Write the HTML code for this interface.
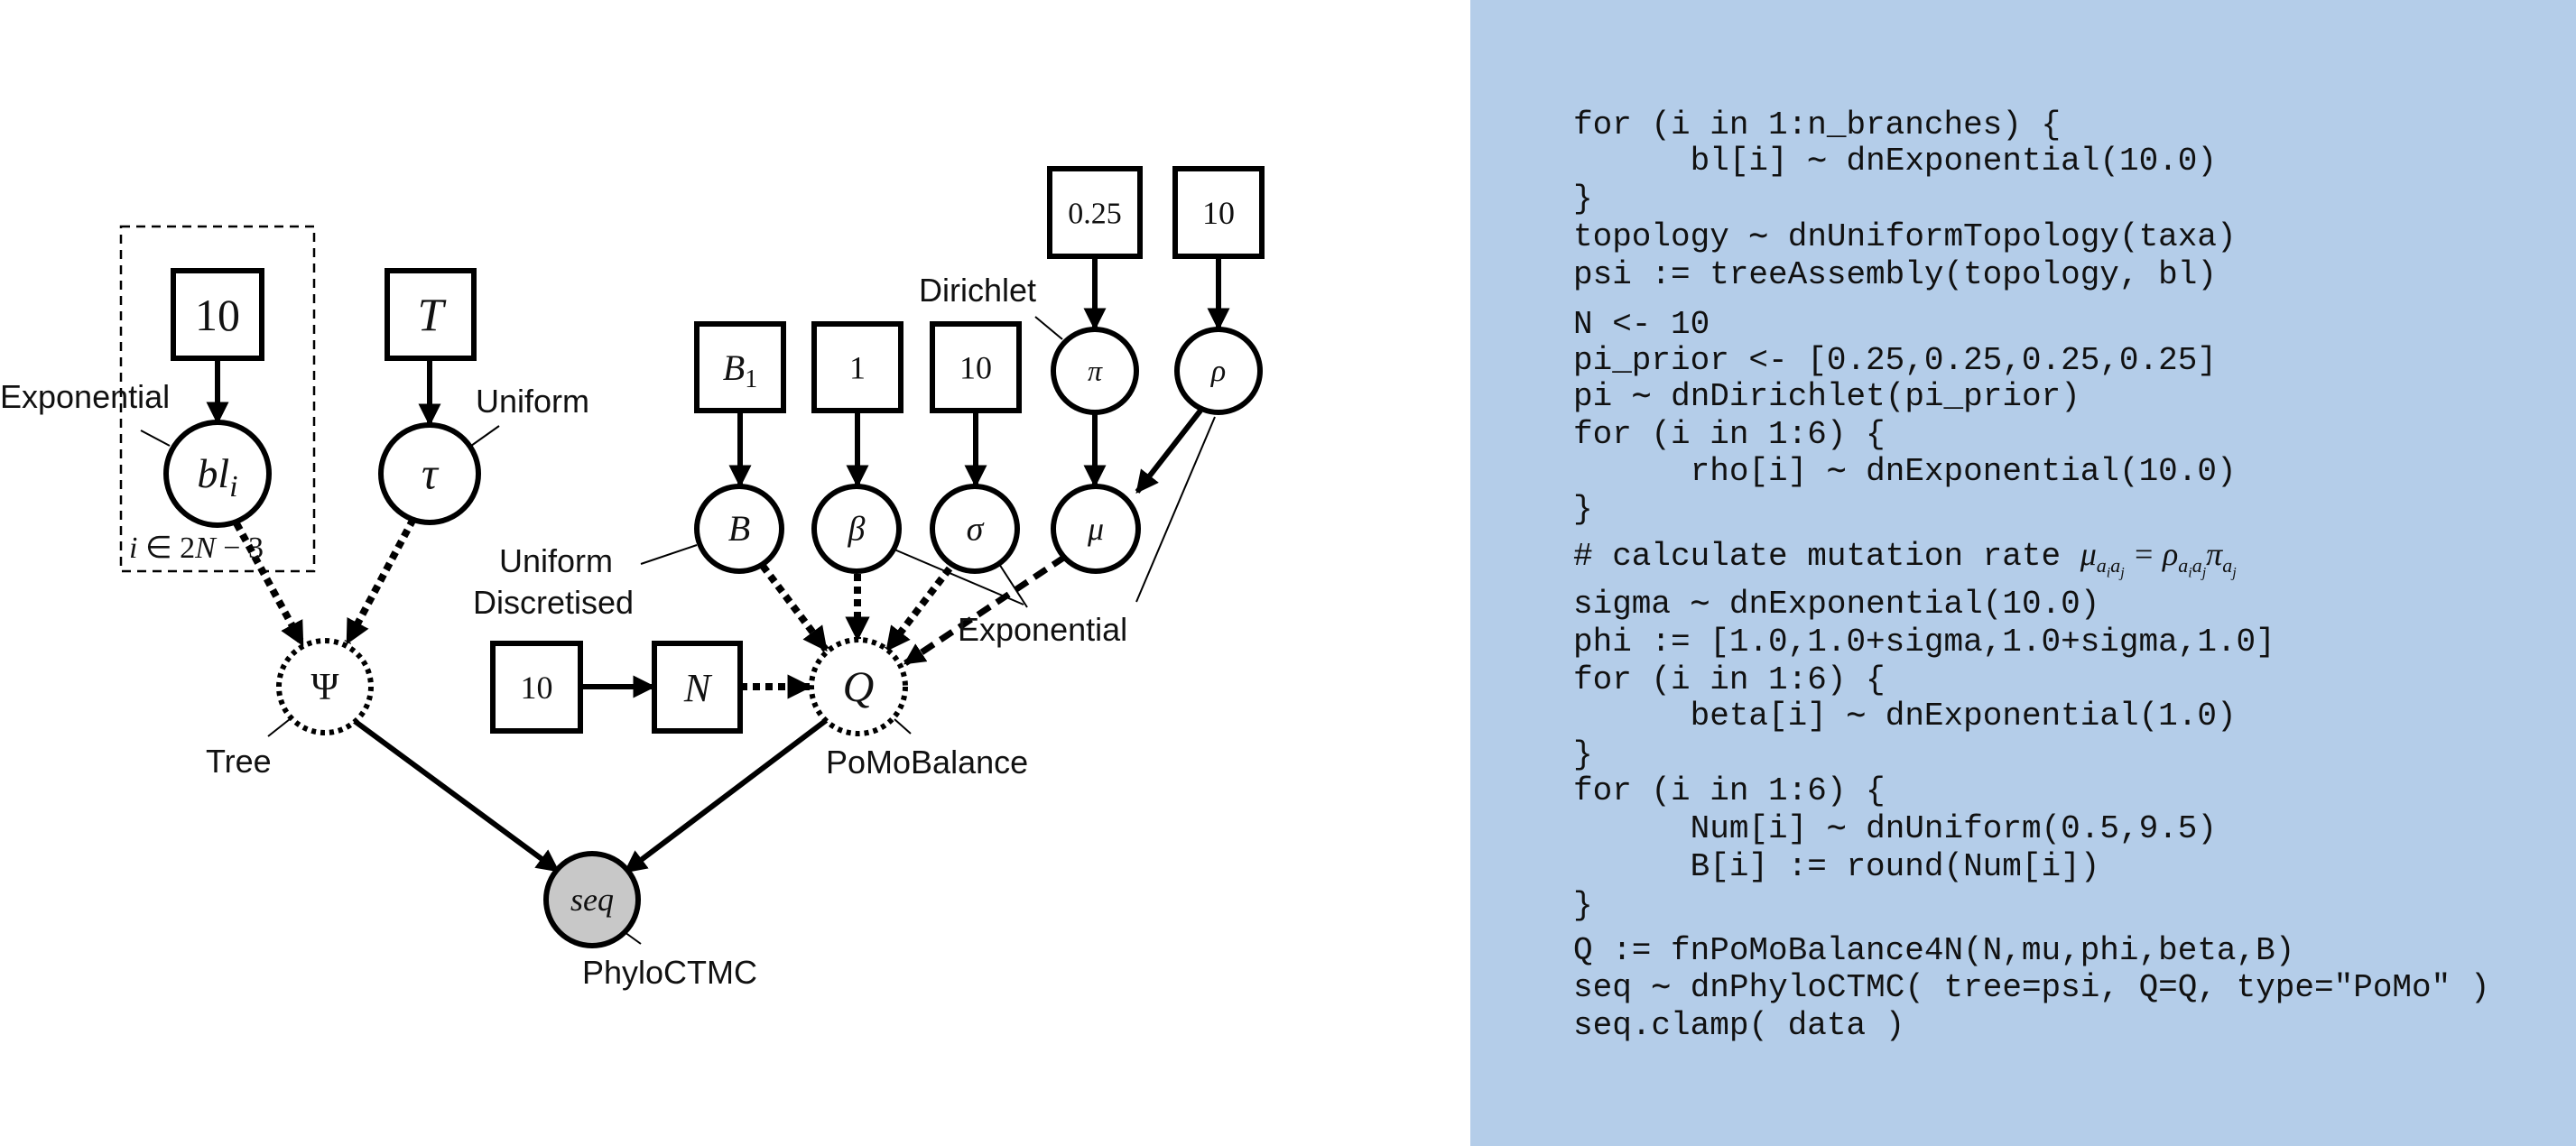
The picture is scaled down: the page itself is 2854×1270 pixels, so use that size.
<!DOCTYPE html>
<html><head><meta charset="utf-8"><style>
body{margin:0;width:2854px;height:1270px;overflow:hidden;background:#fff}
#code{position:absolute;left:1629px;top:0;width:1225px;height:1270px;background:#b4cde9}
.l{position:absolute;left:114px;font:36px "Liberation Mono",monospace;white-space:pre;color:#111;line-height:1}
svg{position:absolute;left:0;top:0}
.s{font-family:"Liberation Sans",sans-serif;font-size:36px;fill:#111}
.m{font-family:"Liberation Serif",serif;font-style:italic;fill:#111}
.n{font-family:"Liberation Serif",serif;fill:#111}
</style></head><body>
<svg width="1629" height="1270">
<defs><marker id="ah" viewBox="0 0 10 10" refX="9" refY="5" markerWidth="4.2" markerHeight="4.2" orient="auto" markerUnits="strokeWidth"><path d="M0,0L10,5L0,10z" fill="#000"/></marker>
<marker id="ah2" viewBox="0 0 10 10" refX="9" refY="5" markerWidth="3.4" markerHeight="3.4" orient="auto" markerUnits="strokeWidth"><path d="M0,0L10,5L0,10z" fill="#000"/></marker></defs>
<rect x="134" y="251" width="214" height="382" fill="none" stroke="#000" stroke-width="2.5" stroke-dasharray="10,7"/>
<g id="g"></g>
<g>
<text class="s" x="0" y="452">Exponential</text>
<text class="s" x="527" y="457">Uniform</text>
<text class="s" x="1018" y="334">Dirichlet</text>
<text class="s" x="553" y="634">Uniform</text>
<text class="s" x="524" y="680">Discretised</text>
<text class="s" x="1061" y="710">Exponential</text>
<text class="s" x="228" y="856">Tree</text>
<text class="s" x="915" y="857">PoMoBalance</text>
<text class="s" x="645" y="1090">PhyloCTMC</text>
<text class="m" x="143" y="618" font-size="34">i <tspan font-style="normal">∈ 2</tspan>N <tspan font-style="normal">− 3</tspan></text>
</g>
</svg>
<div id="code"></div>
<script>
const NS='http://www.w3.org/2000/svg';
const g=document.getElementById('g');
const boxes=[['box-10-bl',192,300,98,97,'10',50,'n'],['box-T',429,300,96,97,'T',52,'m'],
['box-B1',772,359,96,96,'B',40,'m'],['box-1',902,359,96,96,'1',36,'n'],['box-10-sigma',1033,359,96,96,'10',36,'n'],
['box-025',1163,187,100,97,'0.25',34,'n'],['box-10-rho',1302,187,96,97,'10',36,'n'],
['box-10-N',546,713,97,97,'10',36,'n'],['box-N',725,713,95,97,'N',44,'m']];
const circles=[['node-bl',241,525,57,'',46,'solid'],['node-tau',476,525,54,'τ',50,'solid'],
['node-pi',1213,411,46,'π',32,'solid'],['node-rho',1350,411,46,'ρ',34,'solid'],
['node-B',819,586,47,'B',40,'solid'],['node-beta',949,586,47,'β',38,'solid'],['node-sigma',1080,586,47,'σ',38,'solid'],['node-mu',1214,586,47,'μ',36,'solid'],
['node-psi',360,761,51,'Ψ',42,'dot'],['node-Q',951,761,52,'Q',48,'dot'],['node-seq',656,997,51,'seq',36,'fill']];
const solid=[[241,397,241,468],[476,397,476,470],[820,455,820,538],[950,455,950,538],[1081,455,1081,538],[1213,284,1213,364],[1350,284,1350,364],[1213,458,1213,538],[1330,455,1260,545],[643,761,724,761],[390,797,618,965],[917,797,693,966]];
const dashed=[[262,580,335,714],[458,575,385,712],[845,627,915,720],[950,636,950,708],[1052,630,983,720],[820,761,897,761]];
const leaders=[[156,477,188,494],[553,472,522,494],[1147,351,1177,376],[710,625,772,604],[991,609,1134,670],[1107,625,1138,673],[1346,462,1259,667],[321,797,297,816],[991,797,1009,813],[692,1033,710,1046]];
function el(t,a,nm){const e=document.createElementNS(NS,t);for(const k in a)e.setAttribute(k,a[k]);


g.appendChild(e);return e;}
for(const l of leaders)el('line',{x1:l[0],y1:l[1],x2:l[2],y2:l[3],stroke:'#000','stroke-width':2},'leader-line');
for(const l of solid)el('line',{x1:l[0],y1:l[1],x2:l[2],y2:l[3],stroke:'#000','stroke-width':6,'marker-end':'url(#ah)'},'solid-arrow');
for(const l of dashed)el('line',{x1:l[0],y1:l[1],x2:l[2],y2:l[3],stroke:'#000','stroke-width':8,'stroke-dasharray':'8,6','marker-end':'url(#ah2)'},'dashed-arrow');
el('line',{x1:1180,y1:617,x2:1003,y2:735,stroke:'#000','stroke-width':7,'stroke-dasharray':'16,9','marker-end':'url(#ah2)'},'dashed-arrow-mu');
for(const b of boxes){el('rect',{x:b[1],y:b[2],width:b[3],height:b[4],fill:'#fff',stroke:'#000','stroke-width':6},b[0]);
const t=el('text',{x:b[1]+b[3]/2,y:b[2]+b[4]/2+b[6]*0.35,'text-anchor':'middle','font-size':b[6],class:b[7]},b[0]+'-label');
if(b[5]==='B'){t.innerHTML='B<tspan font-style="normal" font-size="28" dy="8">1</tspan>';}else t.textContent=b[5];}
for(const c of circles){const a={cx:c[1],cy:c[2],r:c[3],fill:c[6]==='fill'?'#c8c8c8':'#fff',stroke:'#000','stroke-width':6};
if(c[6]==='dot'){a['stroke-dasharray']='5,5';}
el('circle',a,c[0]);
const t=el('text',{x:c[1],y:c[2]+c[5]*0.33,'text-anchor':'middle','font-size':c[5],class:c[0]==='node-psi'?'n':'m'},c[0]+'-label');
if(c[0]==='node-bl')t.innerHTML='bl<tspan font-size="34" dy="10">i</tspan>';else t.textContent=c[4];}
const lines=[[139,'for (i in 1:n_branches) {'],[179,'      bl[i] ∼ dnExponential(10.0)'],[221,'}'],[263,'topology ∼ dnUniformTopology(taxa)'],[305,'psi := treeAssembly(topology, bl)'],
[360,'N <- 10'],[400,'pi_prior <- [0.25,0.25,0.25,0.25]'],[440,'pi ∼ dnDirichlet(pi_prior)'],[482,'for (i in 1:6) {'],[523,'      rho[i] ∼ dnExponential(10.0)'],[565,'}'],
[614,'# calculate mutation rate <i style="font-family:Liberation Serif,serif">μ<sub style="font-size:22px">a<sub style="font-size:16px">i</sub>a<sub style="font-size:16px">j</sub></sub> = ρ<sub style="font-size:22px">a<sub style="font-size:16px">i</sub>a<sub style="font-size:16px">j</sub></sub>π<sub style="font-size:22px">a<sub style="font-size:16px">j</sub></sub></i>'],
[670,'sigma ∼ dnExponential(10.0)'],[712,'phi := [1.0,1.0+sigma,1.0+sigma,1.0]'],[754,'for (i in 1:6) {'],[794,'      beta[i] ∼ dnExponential(1.0)'],[837,'}'],
[877,'for (i in 1:6) {'],[919,'      Num[i] ∼ dnUniform(0.5,9.5)'],[961,'      B[i] := round(Num[i])'],[1004,'}'],
[1054,'Q := fnPoMoBalance4N(N,mu,phi,beta,B)'],[1095,'seq ∼ dnPhyloCTMC( tree=psi, Q=Q, type="PoMo" )'],[1137,'seq.clamp( data )']];
const code=document.getElementById('code');
for(const [y,t] of lines){const d=document.createElement('div');d.className='l';d.style.top=(y-18)+'px';d.innerHTML=t;


code.appendChild(d);}
</script>
</body></html>
